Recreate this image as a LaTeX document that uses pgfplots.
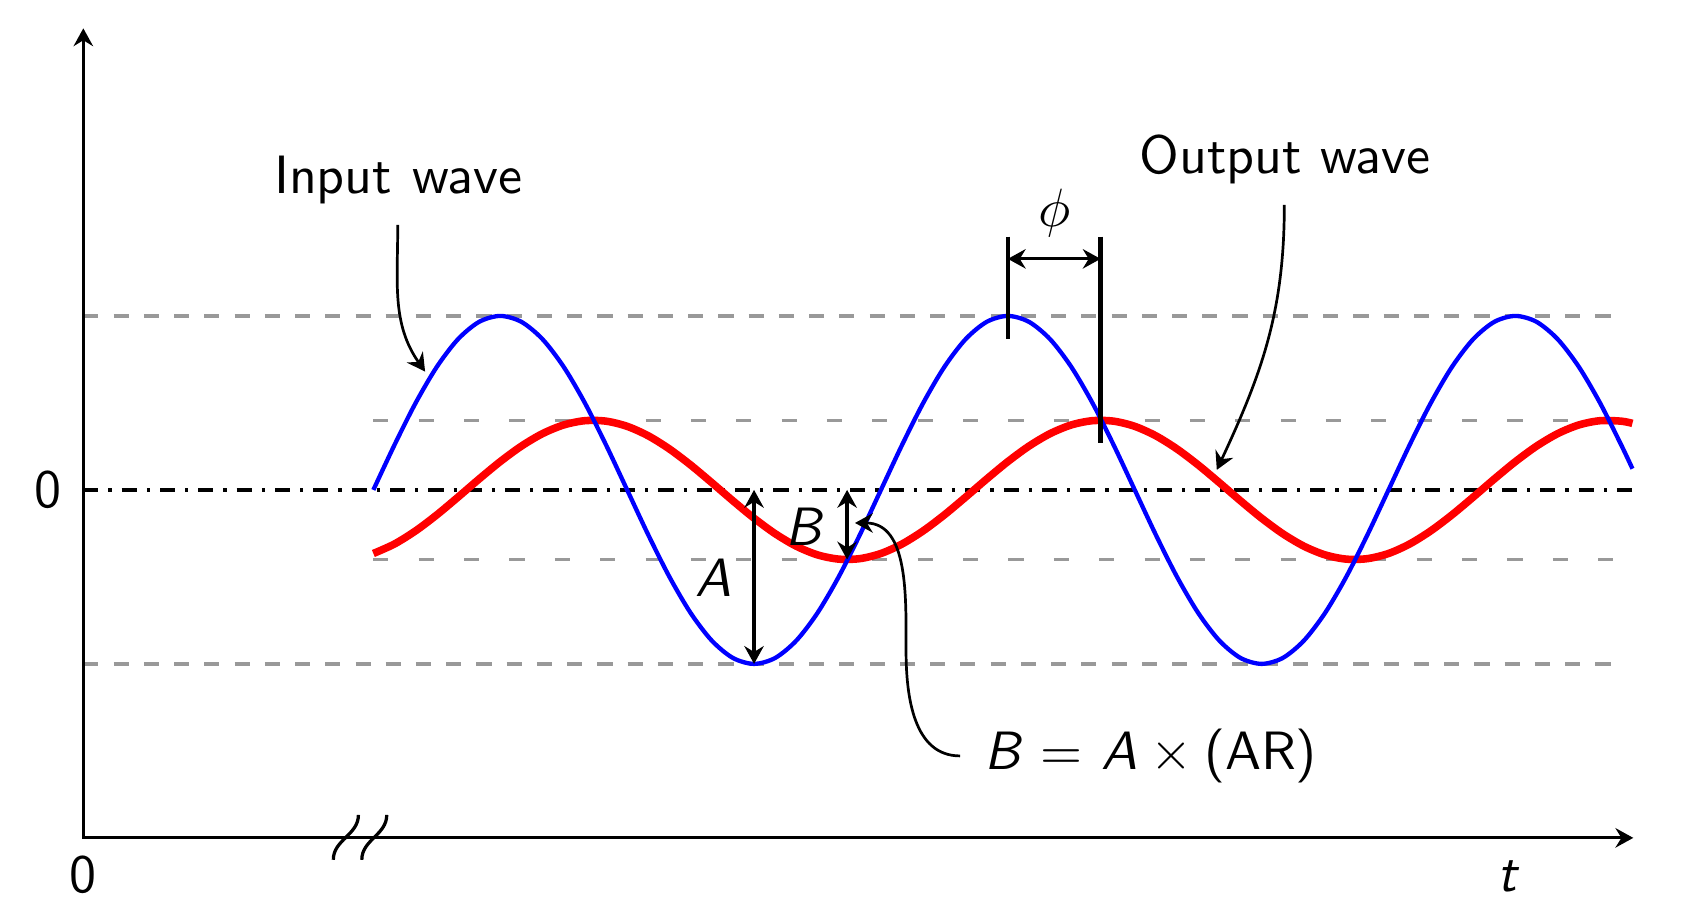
\documentclass[border=0pt]{standalone}
\usepackage{pgfplots}
\pgfplotsset{compat=1.18}
\usetikzlibrary{arrows.meta}
\renewcommand{\familydefault}{\sfdefault}
\begin{document}
\begin{tikzpicture}[
  tip/.style={-{Stealth[length=3.3pt,width=3.6pt,inset=1.1pt]}},
  dtip/.style={{Stealth[length=3.3pt,width=3.6pt,inset=1.1pt]}-{Stealth[length=3.3pt,width=3.6pt,inset=1.1pt]}},
  ]
\begin{axis}[scale only axis, width=312.4pt, height=168.5pt, hide axis, clip=false,
  xmin=-264.8, xmax=931.7, ymin=-2.414, ymax=2.816]
\path (rel axis cs:0,0) rectangle (rel axis cs:1,1);
% reference lines
\addplot[black!40, line width=0.6pt, dash pattern=on 2.8pt off 2.8pt] coordinates {(-205.7,1) (886,1)};
\addplot[black!40, line width=0.6pt, dash pattern=on 2.8pt off 2.8pt] coordinates {(-205.7,-1) (886,-1)};
\addplot[black!40, line width=0.6pt, dash pattern=on 2.8pt off 5.6pt] coordinates {(0,0.4) (886,0.4)};
\addplot[black!40, line width=0.6pt, dash pattern=on 2.8pt off 5.6pt] coordinates {(0,-0.4) (886,-0.4)};
\addplot[black, line width=0.7pt, dash pattern=on 2.8pt off 1.85pt on 0.6pt off 1.85pt] coordinates {(-205.7,0) (893.6,0)};
% axes
\draw[line width=0.6pt, dtip] (axis cs:-205.7,2.653) -- (axis cs:-205.7,-2) -- (axis cs:893.6,-2);
% axis break
\draw[line width=0.6pt] (axis cs:-28.4,-2.126) to[out=90,in=-90] (axis cs:-10.6,-1.868);
\draw[line width=0.6pt] (axis cs:-8.2,-2.126) to[out=90,in=-90] (axis cs:9.5,-1.868);
% output wave
\addplot[red, line width=1.4pt, smooth] coordinates {
(0,-0.3654) (15,-0.3108) (30,-0.2351) (45,-0.1434) (60,-0.0418) (75,0.0626) (90,0.1627)
(105,0.2517) (120,0.3236) (135,0.3734) (150,0.3978) (165,0.3951) (180,0.3654) (195,0.3108)
(210,0.2351) (225,0.1434) (240,0.0418) (255,-0.0626) (270,-0.1627) (285,-0.2517)
(300,-0.3236) (315,-0.3734) (330,-0.3978) (345,-0.3951)
(360,-0.3654) (375,-0.3108) (390,-0.2351) (405,-0.1434) (420,-0.0418) (435,0.0626) (450,0.1627)
(465,0.2517) (480,0.3236) (495,0.3734) (510,0.3978) (525,0.3951) (540,0.3654) (555,0.3108)
(570,0.2351) (585,0.1434) (600,0.0418) (615,-0.0626) (630,-0.1627) (645,-0.2517)
(660,-0.3236) (675,-0.3734) (690,-0.3978) (705,-0.3951)
(720,-0.3654) (735,-0.3108) (750,-0.2351) (765,-0.1434) (780,-0.0418) (795,0.0626) (810,0.1627)
(825,0.2517) (840,0.3236) (855,0.3734) (870,0.3978) (885,0.3951) (893,0.3825)};
% input wave
\addplot[blue, line width=0.8pt, smooth] coordinates {
(0,0) (15,0.2588) (30,0.5) (45,0.7071) (60,0.8660) (75,0.9659) (90,1) (105,0.9659)
(120,0.8660) (135,0.7071) (150,0.5) (165,0.2588) (180,0) (195,-0.2588) (210,-0.5)
(225,-0.7071) (240,-0.8660) (255,-0.9659) (270,-1) (285,-0.9659) (300,-0.8660)
(315,-0.7071) (330,-0.5) (345,-0.2588) (360,0) (375,0.2588) (390,0.5) (405,0.7071)
(420,0.8660) (435,0.9659) (450,1) (465,0.9659) (480,0.8660) (495,0.7071) (510,0.5)
(525,0.2588) (540,0) (555,-0.2588) (570,-0.5) (585,-0.7071) (600,-0.8660) (615,-0.9659)
(630,-1) (645,-0.9659) (660,-0.8660) (675,-0.7071) (690,-0.5) (705,-0.2588) (720,0)
(735,0.2588) (750,0.5) (765,0.7071) (780,0.8660) (795,0.9659) (810,1) (825,0.9659)
(840,0.8660) (855,0.7071) (870,0.5) (885,0.2588) (893,0.1219)};
% phase
\draw[line width=0.8pt] (axis cs:450,1.456) -- (axis cs:450,0.866);
\draw[line width=0.8pt] (axis cs:515.8,1.456) -- (axis cs:515.8,0.268);
\draw[line width=0.6pt, dtip] (axis cs:450,1.328) -- (axis cs:515.8,1.328);
\node at (axis cs:483.5,1.59) {$\phi$};
% amplitudes
\draw[line width=0.6pt, dtip] (axis cs:270,0) -- (axis cs:270,-1);
\draw[line width=0.6pt, dtip] (axis cs:336,0) -- (axis cs:336,-0.4);
\node at (axis cs:241.1,-0.507) {\textit{A}};
\node at (axis cs:306.2,-0.211) {\textit{B}};
% callouts
\node[anchor=base] at (axis cs:17.7,1.705) {Input\hspace{0.4pt} wave};
\node[anchor=base] at (axis cs:646.6,1.820) {Output wave};
\node[anchor=base] at (axis cs:551.5,-1.609) {$\textit{B} \mathrel{\mkern1.5mu=\mkern1.5mu} \textit{A} \times \textup{(AR)}$};
\draw[line width=0.5pt, tip] (axis cs:17.3,1.523) to[out=-90,in=125] (axis cs:36.7,0.68);
\draw[line width=0.5pt, tip] (axis cs:646.1,1.638) to[out=-90,in=65] (axis cs:598.2,0.115);
\draw[line width=0.5pt, tip] (axis cs:416.1,-1.529) to[out=180,in=-90] (axis cs:377.8,-0.92) to[out=90,in=0] (axis cs:341.6,-0.19);
% axis labels
\node at (axis cs:-230.7,0) {0};
\node at (axis cs:-205.9,-2.213) {0};
\node at (axis cs:804.8,-2.22) {\textit{t}};
\end{axis}
\end{tikzpicture}
\end{document}
